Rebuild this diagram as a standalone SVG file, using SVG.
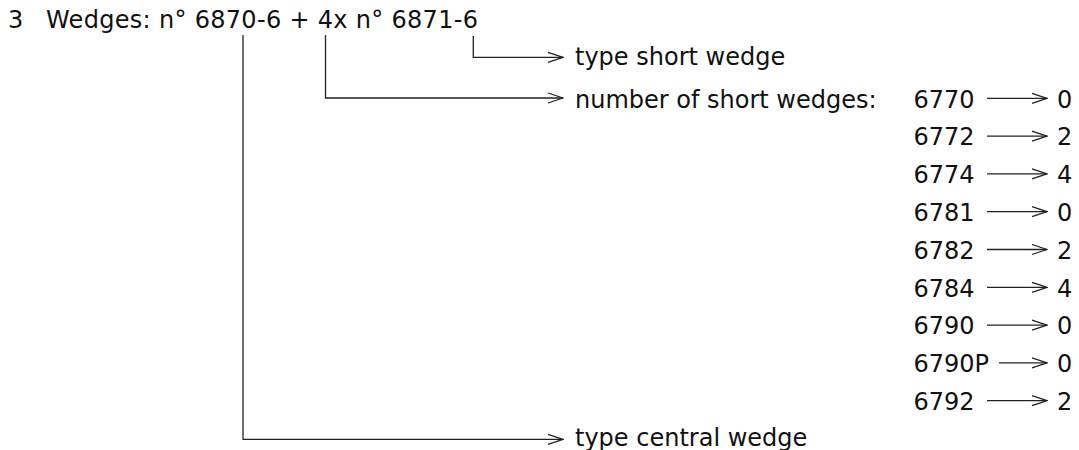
<svg xmlns="http://www.w3.org/2000/svg" width="1079" height="450" viewBox="0 0 1079 450">
<style>
text{font-family:"DejaVu Sans","Verdana",sans-serif;font-size:24px;fill:#111}
.c{fill:none;stroke:#222;stroke-width:1.3}
</style>
<defs>
<marker id="ah" markerUnits="userSpaceOnUse" markerWidth="17" markerHeight="12" refX="15" refY="5.5" orient="auto" viewBox="-1 0 17 11">
<path d="M0,0.5 L15,5.5 L0,10.5" fill="none" stroke="#222" stroke-width="1.3"/>
</marker>
</defs>
<g id="header"><text x="8" y="28">3</text><text x="46" y="28" textLength="432" lengthAdjust="spacing">Wedges: n° 6870-6 + 4x n° 6871-6</text></g>
<g id="labels">
<text id="short" x="575" y="65">type short wedge</text>
<text id="number" x="575" y="107.5">number of short wedges:</text>
<text id="central" x="575" y="446">type central wedge</text>
</g>
<g id="table">
<g id="r1"><text x="913.5" y="107.5">6770</text><text x="1057" y="107.5">0</text></g>
<g id="r2"><text x="913.5" y="145.3">6772</text><text x="1057" y="145.3">2</text></g>
<g id="r3"><text x="913.5" y="183.1">6774</text><text x="1057" y="183.1">4</text></g>
<g id="r4"><text x="913.5" y="220.9">6781</text><text x="1057" y="220.9">0</text></g>
<g id="r5"><text x="913.5" y="258.7">6782</text><text x="1057" y="258.7">2</text></g>
<g id="r6"><text x="913.5" y="296.5">6784</text><text x="1057" y="296.5">4</text></g>
<g id="r7"><text x="913.5" y="334.3">6790</text><text x="1057" y="334.3">0</text></g>
<g id="r8"><text x="913.5" y="372.1">6790P</text><text x="1057" y="372.1">0</text></g>
<g id="r9"><text x="913.5" y="409.9">6792</text><text x="1057" y="409.9">2</text></g>
</g>
<g id="connectors" class="c">
<path class="c" d="M243,35 V439.3 H563" marker-end="url(#ah)"/>
<path class="c" d="M325.5,35 V98 H563" marker-end="url(#ah)"/>
<path class="c" d="M473.3,36 V57.3 H563" marker-end="url(#ah)"/>
<path class="c" d="M987,98.3 H1047" marker-end="url(#ah)"/>
<path class="c" d="M987,136.1 H1047" marker-end="url(#ah)"/>
<path class="c" d="M987,173.9 H1047" marker-end="url(#ah)"/>
<path class="c" d="M987,211.7 H1047" marker-end="url(#ah)"/>
<path class="c" d="M987,249.5 H1047" marker-end="url(#ah)"/>
<path class="c" d="M987,287.3 H1047" marker-end="url(#ah)"/>
<path class="c" d="M987,325.1 H1047" marker-end="url(#ah)"/>
<path class="c" d="M999,362.9 H1047" marker-end="url(#ah)"/>
<path class="c" d="M987,400.7 H1047" marker-end="url(#ah)"/>
</g>
</svg>
